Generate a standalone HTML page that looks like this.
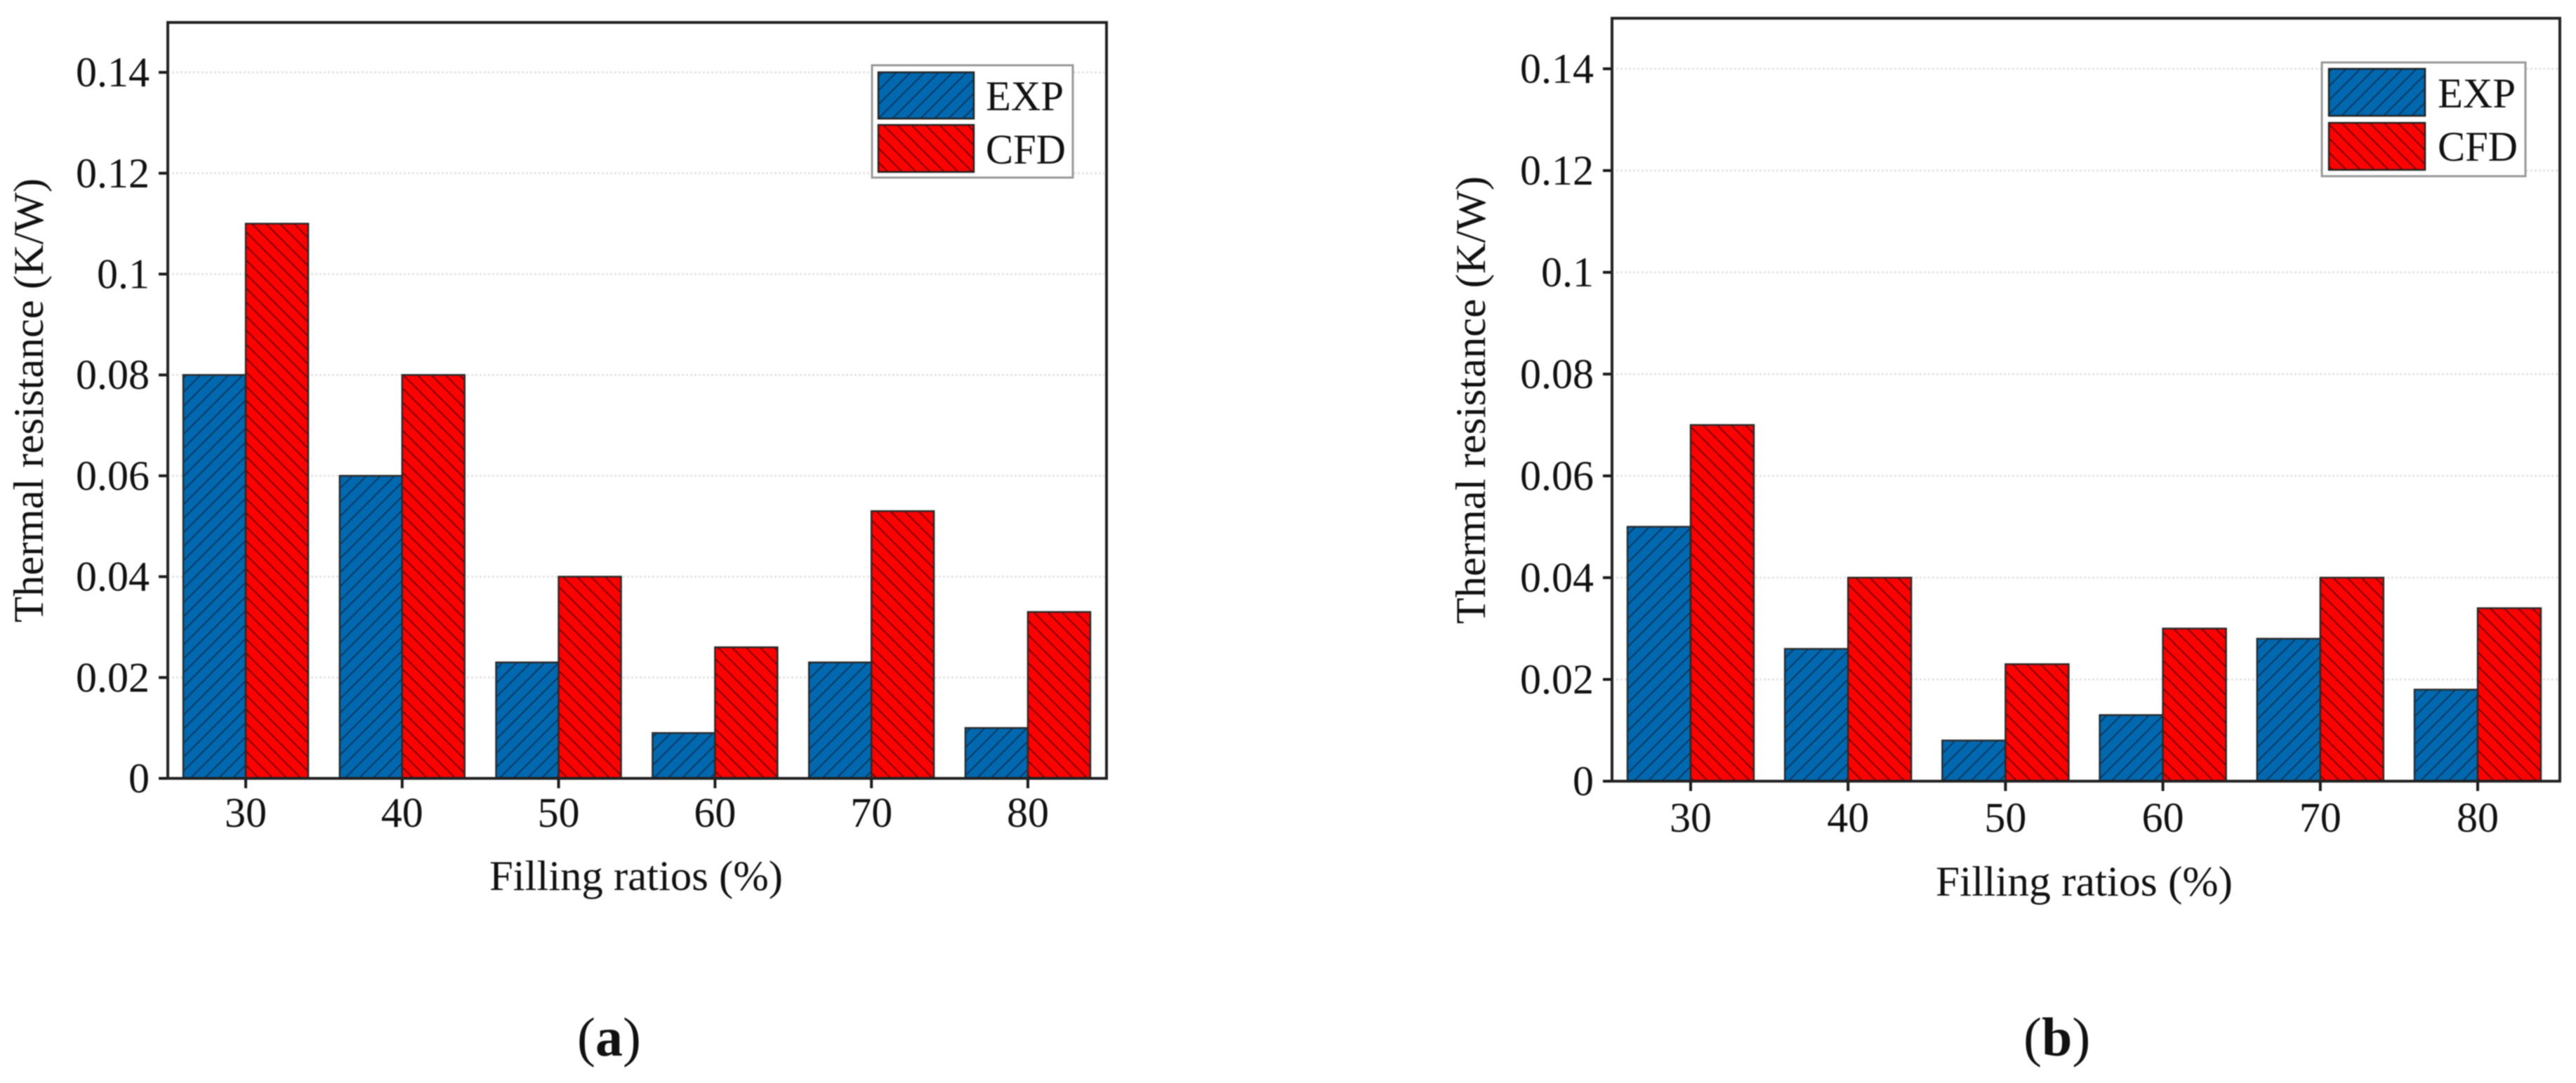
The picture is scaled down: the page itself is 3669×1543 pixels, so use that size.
<!DOCTYPE html>
<html lang="en">
<head>
<meta charset="utf-8">
<title>Thermal resistance vs filling ratios</title>
<style>
html,body{margin:0;padding:0;background:#fff;}
svg{display:block;filter:blur(0.7px);}
text{font-family:"Liberation Serif","Times New Roman",serif;fill:#111;}
</style>
</head>
<body>
<svg id="figure" xmlns="http://www.w3.org/2000/svg" width="3669" height="1543" viewBox="0 0 3669 1543">
  <defs>
    <pattern id="hatch-blue" patternUnits="userSpaceOnUse" width="20" height="20">
      <rect width="20" height="20" fill="#0068ae"/>
      <path d="M-5 5L5 -5M0 20L20 0M15 25L25 15" stroke="#0c3358" stroke-width="1.7" fill="none"/>
    </pattern>
    <pattern id="hatch-red" patternUnits="userSpaceOnUse" width="20" height="20">
      <rect width="20" height="20" fill="#ff0000"/>
      <path d="M-5 15L5 25M0 0L20 20M15 -5L25 5" stroke="#6a0000" stroke-width="1.7" fill="none"/>
    </pattern>
  </defs>
  <rect width="3669" height="1543" fill="#fff"/>
  <g id="panel-a"></g>
  <g id="panel-b"></g>

  <g>
    <rect x="1242" y="93" width="286" height="160" fill="#fff" stroke="#999" stroke-width="3"/>
    <rect x="1251" y="103" width="136" height="66" fill="url(#hatch-blue)" stroke="#222" stroke-width="2.5"/>
    <rect x="1251" y="178" width="136" height="67" fill="url(#hatch-red)" stroke="#222" stroke-width="2.5"/>
    <text x="1404" y="157" font-size="60" textLength="111" lengthAdjust="spacingAndGlyphs">EXP</text>
    <text x="1404" y="233" font-size="60" textLength="114" lengthAdjust="spacingAndGlyphs">CFD</text>
  </g>
  <g>
    <rect x="3307" y="89" width="290" height="162" fill="#fff" stroke="#999" stroke-width="3"/>
    <rect x="3317" y="98" width="137" height="67" fill="url(#hatch-blue)" stroke="#222" stroke-width="2.5"/>
    <rect x="3317" y="175" width="137" height="67" fill="url(#hatch-red)" stroke="#222" stroke-width="2.5"/>
    <text x="3472" y="153" font-size="60" textLength="111" lengthAdjust="spacingAndGlyphs">EXP</text>
    <text x="3472" y="229" font-size="60" textLength="114" lengthAdjust="spacingAndGlyphs">CFD</text>
  </g>

  <text x="697" y="1268" font-size="60" textLength="418" lengthAdjust="spacingAndGlyphs">Filling ratios (%)</text>
  <text x="2757" y="1276" font-size="60" textLength="423" lengthAdjust="spacingAndGlyphs">Filling ratios (%)</text>
  <text transform="translate(61 887) rotate(-90)" font-size="60" textLength="633" lengthAdjust="spacingAndGlyphs">Thermal resistance (K/W)</text>
  <text transform="translate(2115 889) rotate(-90)" font-size="60" textLength="638" lengthAdjust="spacingAndGlyphs">Thermal resistance (K/W)</text>

  <text x="822" y="1504" font-size="78">(<tspan font-weight="bold">a</tspan>)</text>
  <text x="2882" y="1504" font-size="78">(<tspan font-weight="bold">b</tspan>)</text>
</svg>

<script>
const categories = ["30", "40", "50", "60", "70", "80"];
const tickValues = [0, 0.02, 0.04, 0.06, 0.08, 0.1, 0.12, 0.14];
const tickLabels = ["0", "0.02", "0.04", "0.06", "0.08", "0.1", "0.12", "0.14"];
const panelAExp = [0.08, 0.06, 0.023, 0.009, 0.023, 0.01];
const panelACfd = [0.11, 0.08, 0.04, 0.026, 0.053, 0.033];
const panelBExp = [0.05, 0.026, 0.008, 0.013, 0.028, 0.018];
const panelBCfd = [0.07, 0.04, 0.023, 0.03, 0.04, 0.034];

const NS = "http://www.w3.org/2000/svg";

function make(parent, tag, attrs, text) {
  const el = document.createElementNS(NS, tag);
  for (const k in attrs) el.setAttribute(k, attrs[k]);
  if (text !== undefined) el.textContent = text;
  parent.appendChild(el);
  return el;
}

function drawPanel(root, geo, expValues, cfdValues) {
  const xScale = i => geo.firstTick + i * geo.step;
  const yScale = v => geo.base - v * geo.unit;

  tickValues.forEach((v, i) => {
    const y = yScale(v);
    if (v > 0) {
      const grid = make(root, "line", {x1: geo.left + 6, x2: geo.right - 3, y1: y, y2: y, stroke: "#e4e4e4", "stroke-width": 3, "stroke-dasharray": "3 3"});
      
      
    }
    const tick = make(root, "line", {x1: geo.left - 13, x2: geo.left, y1: y, y2: y, stroke: "#1a1a1a", "stroke-width": 4});
    
    
    const label = make(root, "text", {x: geo.left - 26, y: y + 20, "font-size": 60, "text-anchor": "end"}, tickLabels[i]);
    
    
  });

  categories.forEach((c, i) => {
    const x = xScale(i);
    const expBar = make(root, "rect", {x: x - geo.barWidth, y: yScale(expValues[i]), width: geo.barWidth, height: geo.base - yScale(expValues[i]), fill: "url(#hatch-blue)", stroke: "#2a2a2a", "stroke-width": 2.5});
    
    
    const cfdBar = make(root, "rect", {x: x, y: yScale(cfdValues[i]), width: geo.barWidth, height: geo.base - yScale(cfdValues[i]), fill: "url(#hatch-red)", stroke: "#2a2a2a", "stroke-width": 2.5});
    
    
    const tick = make(root, "line", {x1: x, x2: x, y1: geo.base, y2: geo.base + 14, stroke: "#1a1a1a", "stroke-width": 4});
    
    
    const label = make(root, "text", {x: x, y: geo.xLabelY, "font-size": 60, "text-anchor": "middle"}, c);
    
    
  });

  const frame = make(root, "rect", {x: geo.left, y: geo.top, width: geo.right - geo.left, height: geo.base - geo.top, fill: "none", stroke: "#222", "stroke-width": 4});
  
  
}

drawPanel(document.getElementById("panel-a"),
  {left: 239, right: 1576, top: 32, base: 1109, firstTick: 350, step: 222.8, barWidth: 89, unit: 7185, xLabelY: 1178},
  panelAExp, panelACfd);
drawPanel(document.getElementById("panel-b"),
  {left: 2296, right: 3646, top: 26, base: 1113, firstTick: 2408, step: 224.2, barWidth: 90, unit: 7250, xLabelY: 1185},
  panelBExp, panelBCfd);
</script>
</body>
</html>
